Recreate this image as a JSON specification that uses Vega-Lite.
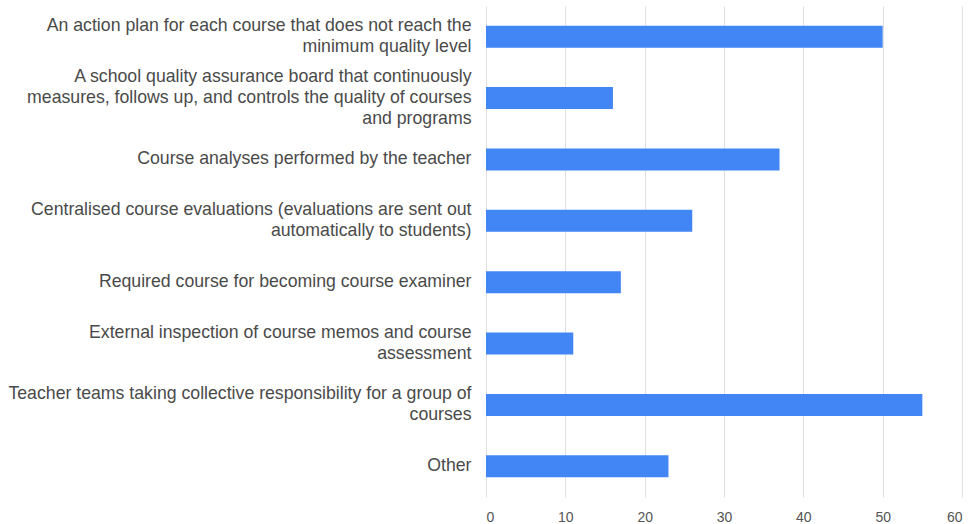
{
  "$schema": "https://vega.github.io/schema/vega-lite/v6.json",
  "width": 476,
  "height": 491,
  "padding": {"left": 7, "top": 6, "right": 14, "bottom": 5},
  "background": "white",
  "data": {
    "values": [
      {"label": "An action plan for each course that does not reach the|minimum quality level", "value": 50},
      {"label": "A school quality assurance board that continuously|measures, follows up, and controls the quality of courses|and programs", "value": 16},
      {"label": "Course analyses performed by the teacher", "value": 37},
      {"label": "Centralised course evaluations (evaluations are sent out|automatically to students)", "value": 26},
      {"label": "Required course for becoming course examiner", "value": 17},
      {"label": "External inspection of course memos and course|assessment", "value": 11},
      {"label": "Teacher teams taking collective responsibility for a group of|courses", "value": 55},
      {"label": "Other", "value": 23}
    ]
  },
  "mark": {"type": "bar", "color": "#4285F4"},
  "encoding": {
    "y": {
      "field": "label",
      "type": "nominal",
      "sort": null,
      "scale": {"paddingInner": 0.64, "paddingOuter": 0.32},
      "axis": {
        "title": null,
        "labelExpr": "split(datum.label, '|')",
        "labelFont": "Liberation Sans",
        "labelFontSize": 17.7,
        "labelColor": "#4a4a4a",
        "labelLineHeight": 21,
        "labelPadding": 15,
        "labelLimit": 0,
        "labelOffset": {
          "condition": [
            {"test": "length(split(datum.value, '|')) == 3", "value": -21},
            {"test": "length(split(datum.value, '|')) == 2", "value": -10.5}
          ],
          "value": 0
        },
        "ticks": false,
        "domain": false
      }
    },
    "x": {
      "field": "value",
      "type": "quantitative",
      "scale": {"domain": [0, 60]},
      "axis": {
        "title": null,
        "values": [0, 10, 20, 30, 40, 50, 60],
        "labelFont": "Liberation Sans",
        "labelFontSize": 14,
        "labelColor": "#555555",
        "labelPadding": 13,
        "gridColor": "#e0e0e0",
        "ticks": false,
        "domain": false
      }
    }
  },
  "config": {"view": {"stroke": null}}
}
